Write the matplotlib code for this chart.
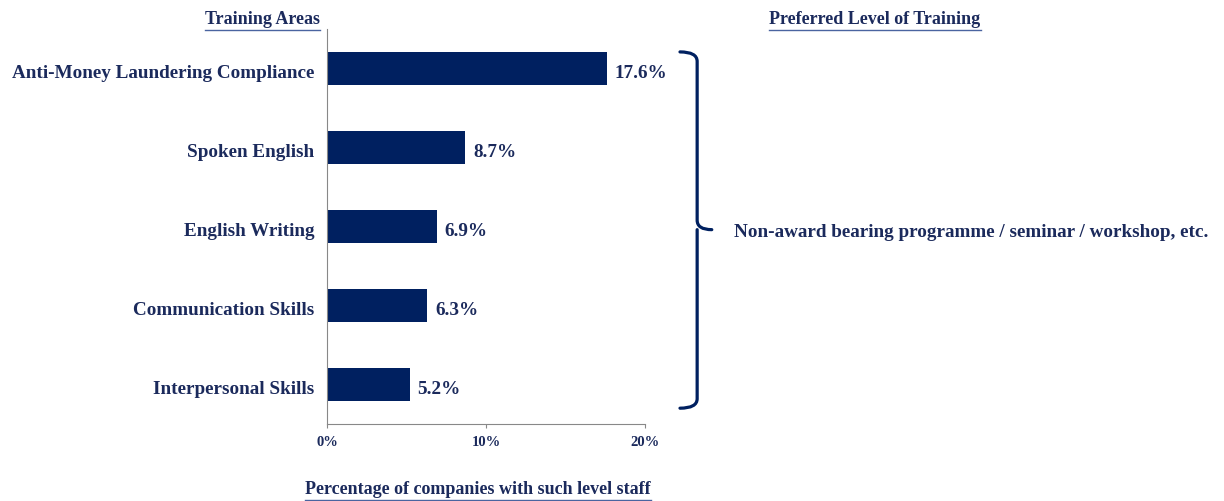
import matplotlib.pyplot as plt
from matplotlib.path import Path
from matplotlib.patches import PathPatch
from matplotlib.lines import Line2D
import matplotlib.transforms as mtransforms

plt.rcParams['font.family'] = ['Liberation Serif', 'DejaVu Serif']
plt.rcParams['font.weight'] = 'bold'

# data
areas = ["Anti-Money Laundering Compliance", "Spoken English", "English Writing",
         "Communication Skills", "Interpersonal Skills"]
shares = [17.6, 8.7, 6.9, 6.3, 5.2]
x_ticks = [0, 10, 20]
level_label = "Non-award bearing programme / seminar / workshop, etc."

navy = '#002060'
txt = '#1b2a5c'
line_c = '#4a64a0'

fig = plt.figure(figsize=(12.24, 5.01), dpi=100)
ax = fig.add_axes([327/1224, 1-424/501, 318/1224, 395/501])

# shift texts a few pixels down, like the original
down = mtransforms.ScaledTranslation(0, -5/100, fig.dpi_scale_trans)

ypos = list(range(len(areas)))
ax.barh(ypos, shares, height=0.41, color=navy)
for y, v in zip(ypos, shares):
    ax.text(v + 0.5, y, f"{v}%", va='center', ha='left', fontsize=13.8,
            color=txt, fontweight='bold', transform=ax.transData + down)

lab_tr = mtransforms.blended_transform_factory(ax.transAxes, ax.transData) + down
for y, name in zip(ypos, areas):
    ax.text(-0.04, y, name, va='center', ha='right', fontsize=13.8,
            color=txt, fontweight='bold', transform=lab_tr)

ax.set_ylim(len(areas) - 0.5, -0.5)
ax.set_xlim(0, 20)
ax.set_yticks([])
ax.set_xticks(x_ticks)
ax.set_xticklabels([f"{t}%" for t in x_ticks], fontsize=10.5, color=txt, fontweight='bold')
ax.tick_params(axis='x', length=3, color='#888888', pad=6)
for s in ['top', 'right']:
    ax.spines[s].set_visible(False)
ax.spines['left'].set_color('#888888')
ax.spines['bottom'].set_color('#888888')

# brace on the right, x in axes fraction, y in data
tr = mtransforms.blended_transform_factory(ax.transAxes, ax.transData)
x0, x1, xt = 1.11, 1.164, 1.21
yt, ym, yb = -0.21, 2.04, 4.30
r = 0.12
verts = [(x0, yt), (x1, yt), (x1, yt + r),
         (x1, ym - r), (x1, ym), (xt, ym),
         (x1, ym), (x1, ym + r),
         (x1, yb - r), (x1, yb), (x0, yb)]
codes = [Path.MOVETO, Path.CURVE3, Path.CURVE3,
         Path.LINETO, Path.CURVE3, Path.CURVE3,
         Path.MOVETO, Path.LINETO,
         Path.LINETO, Path.CURVE3, Path.CURVE3]
ax.add_patch(PathPatch(Path(verts, codes), transform=tr, fill=False,
                       edgecolor=navy, lw=2.3, clip_on=False, capstyle='round'))
ax.text(1.28, ym, level_label, transform=tr + mtransforms.ScaledTranslation(0, -3/100, fig.dpi_scale_trans),
        va='center', ha='left', fontsize=13.8, color=txt, fontweight='bold', clip_on=False)

# headers
h1 = fig.text(320/1224, 1-19/501, "Training Areas", ha='right', va='center',
              fontsize=13, color=txt, fontweight='bold')
h2 = fig.text(875/1224, 1-19/501, "Preferred Level of Training", ha='center', va='center',
              fontsize=13, color=txt, fontweight='bold')
h3 = fig.text(478/1224, 1-489/501, "Percentage of companies with such level staff",
              ha='center', va='center', fontsize=13, color=txt, fontweight='bold')

fig.canvas.draw()
rend = fig.canvas.get_renderer()
inv = fig.transFigure.inverted()
for h in [h1, h2, h3]:
    bb = h.get_window_extent(renderer=rend)
    (a, b), (c, d) = inv.transform([(bb.x0, bb.y0), (bb.x1, bb.y1)])
    fig.add_artist(Line2D([a, c], [b - 0.004, b - 0.004], transform=fig.transFigure,
                          color=line_c, lw=1.0))

fig.savefig('out.png', dpi=100)
